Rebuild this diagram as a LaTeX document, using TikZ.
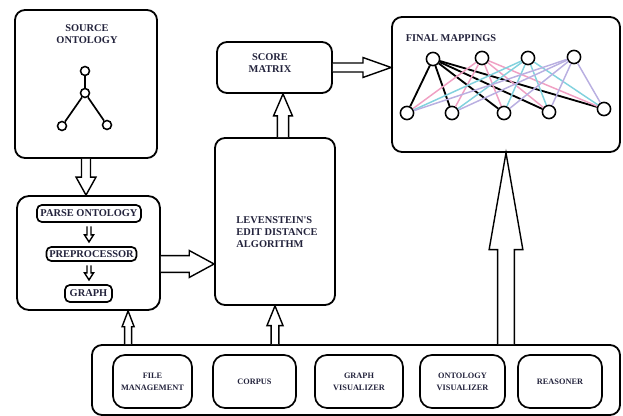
\documentclass[tikz,border=0pt]{standalone}
\usepackage{fontspec}
\setmainfont{Liberation Serif}[Ligatures=TeXOff]
\usetikzlibrary{calc}

\definecolor{txtcol}{RGB}{35,35,60}
\definecolor{mappink}{RGB}{240,160,195}
\definecolor{mapcyan}{RGB}{130,210,222}
\definecolor{mappurple}{RGB}{185,175,225}

\newcommand{\bigtext}{\fontsize{7.4}{8.5}\selectfont\bfseries}
\newcommand{\smalltext}{\fontsize{5.9}{8.5}\selectfont\bfseries}

% hollow block arrow: from, to, shaft half width, head half width, head length
\newcommand{\fatarrow}[5]{%
  \draw[line width=1pt,fill=white,line join=miter] let \p1=(#1), \p2=(#2),
    \n1={atan2(\y2-\y1,\x2-\x1)}, \n2={veclen(\x2-\x1,\y2-\y1)} in
    [shift={(\p1)},rotate=\n1]
    (0pt,-#3) -- ({\n2-#5},-#3) -- ({\n2-#5},-#4) -- ({\n2},0pt)
    -- ({\n2-#5},#4) -- ({\n2-#5},#3) -- (0pt,#3);}

\tikzset{
  box/.style={draw,line width=1.3pt,rounded corners=0.25cm,inner sep=0pt},
  subbox/.style={draw,line width=1.2pt,rounded corners=0.12cm,inner sep=0pt,
    text=txtcol,font=\bigtext},
  toolbox/.style={draw,line width=1.2pt,rounded corners=0.3cm,inner sep=0pt,
    minimum height=1.325cm,text=txtcol,font=\smalltext,align=center},
  lbl/.style={text=txtcol,font=\bigtext,align=center},
  dot/.style={circle,draw,line width=1.1pt,fill=white,inner sep=0pt,minimum size=#1},
}

\begin{document}
\begin{tikzpicture}
    \useasboundingbox (0,0) rectangle (15.575,10.4);

    % source ontology
    \node[box,minimum width=3.55cm,minimum height=3.7cm] (source) at (2.15, 8.3) {};
    \node[lbl] (srclbl) at (2.175, 9.55) {SOURCE\\ ONTOLOGY};
    \node[dot=0.225cm] (s1) at (2.125, 8.625) {};
    \node[dot=0.225cm] (s2) at (2.125, 8.075) {};
    \node[dot=0.225cm] (s3) at (1.55, 7.25) {};
    \node[dot=0.225cm] (s4) at (2.675, 7.275) {};
    \draw[line width=1.2pt] (s1) -- (s2);
    \draw[line width=1.2pt] (s2) -- (s3);
    \draw[line width=1.2pt] (s2) -- (s4);

    % parsing block
    \node[box,rounded corners=0.3cm,minimum width=3.575cm,minimum height=2.85cm] (parse) at (2.2125, 4.075) {};
    \node[subbox,minimum width=2.6cm,minimum height=0.425cm] (po) at (2.225, 5.0625) {PARSE ONTOLOGY};
    \node[subbox,minimum width=2.25cm,minimum height=0.35cm] (pre) at (2.2875, 4.05) {PREPROCESSOR};
    \node[subbox,minimum width=1.175cm,minimum height=0.425cm] (gr) at (2.2125, 3.0625) {GRAPH};

    % algorithm and score matrix
    \node[box,minimum width=3.0cm,minimum height=4.175cm] (lev) at (6.875, 4.8625) {};
    \node[lbl,align=left] (levlbl) at (6.925, 4.6) {LEVENSTEIN'S\\ EDIT DISTANCE\\ ALGORITHM};
    \node[box,minimum width=2.875cm,minimum height=1.275cm] (score) at (6.8625, 8.7125) {};
    \node[lbl] (scorelbl) at (6.75, 8.825) {SCORE\\ MATRIX};

    % final mappings
    \node[box,minimum width=5.7cm,minimum height=3.375cm] (final) at (12.65, 8.2875) {};
    \node[lbl] (finallbl) at (11.275, 9.45) {FINAL MAPPINGS};
    \foreach \n/\x/\y in {1/10.825/8.925, 2/12.05/8.95, 3/13.2/8.95, 4/14.35/8.975}
        \node[dot=0.33cm] (top\n) at (\x, \y) {};
    \foreach \n/\x/\y in {1/10.175/7.575, 2/11.3/7.575, 3/12.6/7.575, 4/13.725/7.6, 5/15.1/7.675}
        \node[dot=0.33cm] (bot\n) at (\x, \y) {};
    \foreach \t/\c/\w in {1/black/1.3pt, 2/mappink/1.05pt, 3/mapcyan/1.05pt, 4/mappurple/1.05pt}
        \foreach \b in {1,...,5}
            \draw[\c,line width=\w] (top\t) -- (bot\b);

    % tools
    \node[box,minimum width=13.2cm,minimum height=1.75cm] (tools) at (8.9, 0.9) {};
    \node[toolbox,minimum width=1.975cm] (fm) at (3.8125, 0.8625) {FILE\\ MANAGEMENT};
    \node[toolbox,minimum width=2.075cm] (corpus) at (6.3625, 0.8625) {CORPUS};
    \node[toolbox,minimum width=2.2cm] (gv) at (8.975, 0.8625) {GRAPH\\ VISUALIZER};
    \node[toolbox,minimum width=2.125cm] (ov) at (11.5625, 0.8625) {ONTOLOGY\\ VISUALIZER};
    \node[toolbox,minimum width=2.1cm] (reas) at (14.0, 0.8625) {REASONER};

    % block arrows
    \fatarrow{source.south}{source.south |- parse.north}{3.2pt}{7.1pt}{12.8pt}
    \fatarrow{[yshift=-2.5pt]po.south}{[yshift=3pt]po.south |- pre.north}{1.4pt}{3.2pt}{5pt}
    \fatarrow{[yshift=-2.5pt]po.south |- pre.south}{[yshift=3pt]po.south |- gr.north}{1.4pt}{3.2pt}{5pt}
    \fatarrow{[yshift=-0.275cm]parse.east}{[yshift=-0.275cm]parse.east -| lev.west}{6pt}{9.6pt}{17.7pt}
    \fatarrow{[xshift=0.2cm]lev.north}{[xshift=0.2cm]lev.north |- score.south}{4pt}{6.7pt}{15.6pt}
    \fatarrow{score.east}{score.east -| final.west}{3.2pt}{7.1pt}{20pt}
    \fatarrow{[xshift=0.99cm]parse.south |- tools.north}{[xshift=0.99cm]parse.south}{2.5pt}{4.3pt}{11.3pt}
    \fatarrow{lev.south |- tools.north}{lev.south}{2.8pt}{5.7pt}{14pt}
    \fatarrow{final.south |- tools.north}{final.south}{6pt}{12pt}{68.8pt}
\end{tikzpicture}
\end{document}
